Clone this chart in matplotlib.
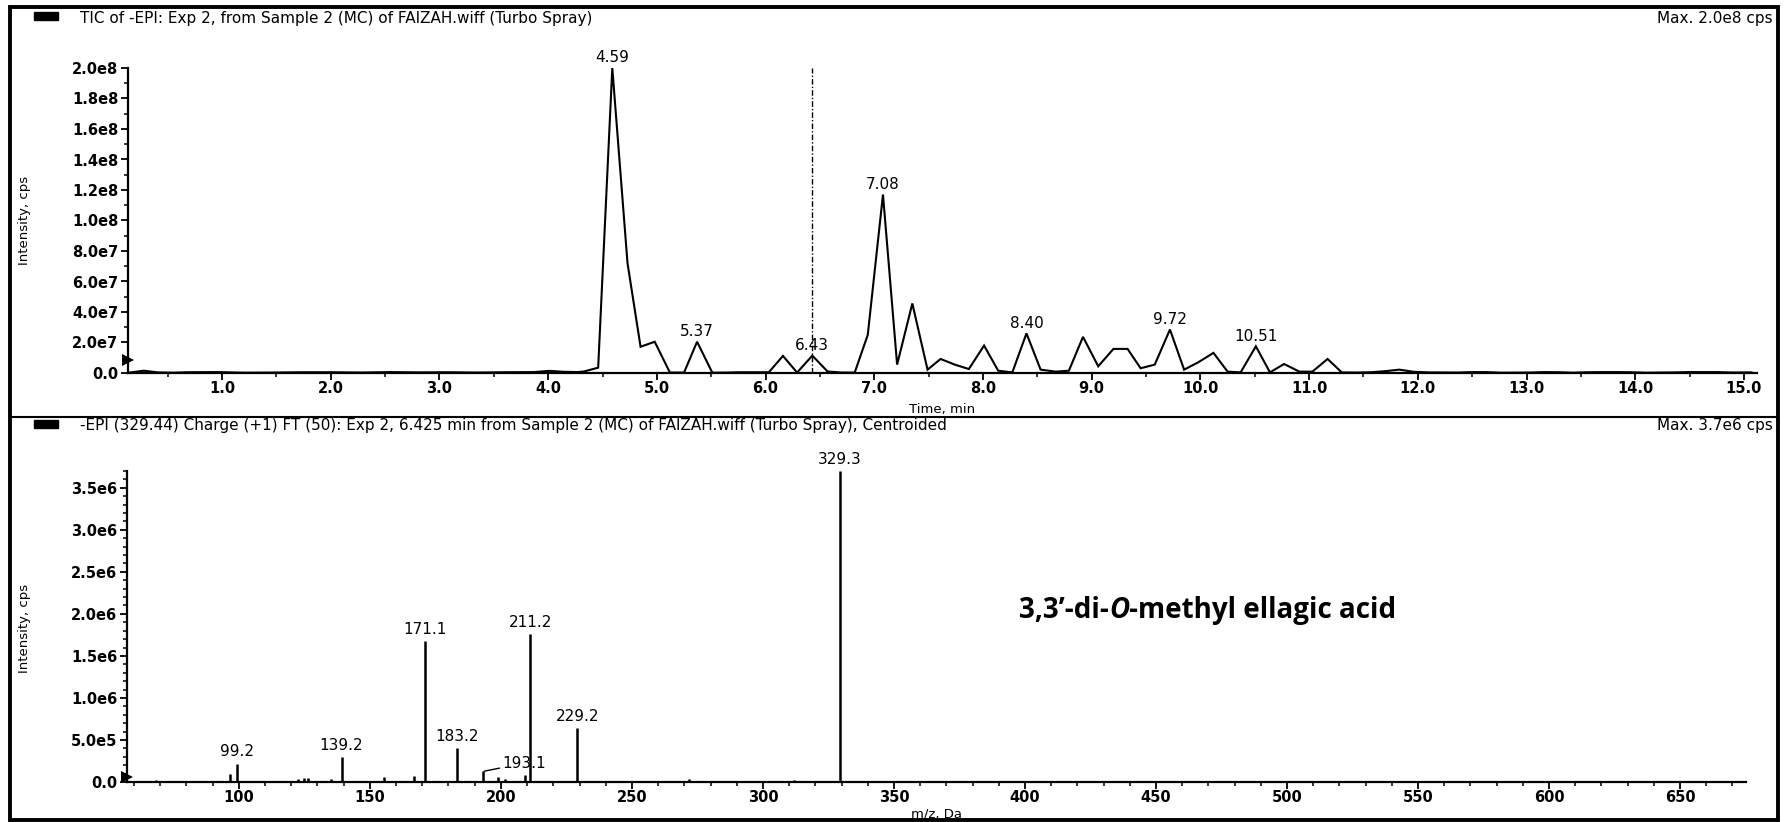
import matplotlib
matplotlib.use("Agg")
import matplotlib.pyplot as plt
from matplotlib.patches import Rectangle
from matplotlib.lines import Line2D
from matplotlib.ticker import MultipleLocator, FuncFormatter

# ---------------- data ----------------
tic_time = [0.15, 0.28, 0.41, 0.55, 0.68, 0.95, 1.21, 1.48, 1.75, 2.01, 2.28, 2.54,
            2.81, 3.08, 3.34, 3.61, 3.87, 4.01, 4.14, 4.27, 4.33, 4.46, 4.59, 4.73,
            4.85, 4.98, 5.12, 5.25, 5.37, 5.51, 5.64, 5.77, 5.90, 6.03, 6.16, 6.29,
            6.43, 6.57, 6.70, 6.82, 6.94, 7.08, 7.21, 7.35, 7.49, 7.61, 7.74, 7.87,
            8.01, 8.14, 8.27, 8.40, 8.53, 8.67, 8.79, 8.92, 9.06, 9.20, 9.33, 9.45,
            9.58, 9.72, 9.85, 9.98, 10.12, 10.25, 10.37, 10.51, 10.64, 10.77, 10.91,
            11.03, 11.17, 11.30, 11.43, 11.57, 11.70, 11.83, 11.96, 12.10, 12.36,
            12.50, 12.63, 12.76, 13.03, 13.16, 13.30, 13.43, 13.56, 13.70, 13.83,
            13.96, 14.10, 14.36, 14.50, 14.63, 14.76, 14.90, 15.07]
tic_intensity = [0.3e6, 1.5e6, 0.4e6, 0.2e6, 0.5e6, 0.6e6, 0.2e6, 0.3e6, 0.5e6, 0.5e6,
                 0.3e6, 0.6e6, 0.4e6, 0.5e6, 0.3e6, 0.5e6, 0.6e6, 1.4e6, 0.8e6, 0.6e6,
                 1.0e6, 3.5e6, 2.0e8, 7.2e7, 1.72e7, 2.05e7, 0.3e6, 0.3e6, 2.05e7, 0.2e6,
                 0.3e6, 0.5e6, 0.5e6, 0.5e6, 1.12e7, 0.3e6, 1.14e7, 1.0e6, 0.3e6, 0.3e6,
                 2.5e7, 1.17e8, 5.5e6, 4.56e7, 2.2e6, 9.2e6, 5.5e6, 2.6e6, 1.8e7, 1.5e6,
                 0.4e6, 2.6e7, 2.2e6, 0.9e6, 1.5e6, 2.37e7, 4.4e6, 1.58e7, 1.58e7, 3.1e6,
                 5.5e6, 2.85e7, 2.2e6, 7.0e6, 1.32e7, 0.9e6, 0.4e6, 1.75e7, 0.4e6, 5.9e6,
                 0.9e6, 0.9e6, 9.2e6, 0.4e6, 0.3e6, 0.5e6, 1.2e6, 2.2e6, 0.8e6, 0.4e6,
                 0.3e6, 0.6e6, 0.6e6, 0.2e6, 0.3e6, 0.6e6, 0.5e6, 0.2e6, 0.5e6, 0.6e6,
                 0.6e6, 0.5e6, 0.2e6, 0.4e6, 0.6e6, 0.6e6, 0.6e6, 0.3e6, 0.4e6]
tic_peak_times = [4.59, 5.37, 6.43, 7.08, 8.40, 9.72, 10.51]
tic_peak_labels = ["4.59", "5.37", "6.43", "7.08", "8.40", "9.72", "10.51"]
scan_time = 6.425

ms_mz = [68.3, 96.8, 99.2, 122.6, 124.8, 126.5, 135.0, 139.2, 155.2, 167.0, 171.1,
         183.2, 193.1, 198.9, 201.5, 209.1, 211.2, 229.2, 271.8, 311.7, 329.3]
ms_intensity = [0.02e6, 0.09e6, 0.22e6, 0.04e6, 0.05e6, 0.05e6, 0.03e6, 0.30e6,
                0.065e6, 0.07e6, 1.68e6, 0.40e6, 0.125e6, 0.06e6, 0.04e6, 0.08e6,
                1.76e6, 0.64e6, 0.04e6, 0.02e6, 3.70e6]
ms_label_mz = [99.2, 139.2, 171.1, 183.2, 211.2, 229.2, 329.3]
ms_labels = ["99.2", "139.2", "171.1", "183.2", "211.2", "229.2", "329.3"]
ms_side_label_mz = 193.1
ms_side_label = "193.1"

top_title = "TIC of -EPI: Exp 2, from Sample 2 (MC) of FAIZAH.wiff (Turbo Spray)"
top_max = "Max. 2.0e8 cps"
bot_title = ("-EPI (329.44) Charge (+1) FT (50): Exp 2, 6.425 min from Sample 2 (MC) "
             "of FAIZAH.wiff (Turbo Spray), Centroided")
bot_max = "Max. 3.7e6 cps"
compound = ["3,3\u2019-di-", "O", "-methyl ellagic acid"]

# ---------------- layout ----------------
W, H = 1789, 822
fig = plt.figure(figsize=(W / 100, H / 100), dpi=100)
plt.rcParams['font.family'] = ['DejaVu Sans']


def fx(px):
    return px / W


def fy(py):
    return 1 - py / H


def sci(v, pos=None):
    if v == 0:
        return "0.0"
    e = 0
    m = v
    while abs(m) >= 10:
        m /= 10
        e += 1
    return f"{m:.1f}e{e}"


TICK_FS = 10.5
LBL_FS = 11

ax1 = fig.add_axes([fx(128), fy(373), fx(1757) - fx(128), fy(68) - fy(373)])
ax2 = fig.add_axes([fx(127), fy(782), fx(1746) - fx(127), fy(471) - fy(782)])

for ax in (ax1, ax2):
    ax.set_facecolor('none')
    for s in ('top', 'right'):
        ax.spines[s].set_visible(False)
    for s in ('left', 'bottom'):
        ax.spines[s].set_linewidth(1.6)
    ax.tick_params(which='major', direction='out', length=5, width=1.3,
                   labelsize=TICK_FS, pad=2)
    ax.tick_params(axis='x', which='major', pad=1)
    ax.tick_params(which='minor', direction='out', length=3, width=1.1)

# ---- top: TIC ----
ax1.plot(tic_time, tic_intensity, color='black', lw=1.5, solid_joinstyle='miter')
ax1.set_xlim(0.135, 15.12)
ax1.set_ylim(0, 2.0e8)
ax1.xaxis.set_major_locator(MultipleLocator(1.0))
ax1.xaxis.set_minor_locator(MultipleLocator(0.5))
ax1.yaxis.set_major_locator(MultipleLocator(2e7))
ax1.yaxis.set_minor_locator(MultipleLocator(1e7))
ax1.xaxis.set_major_formatter(FuncFormatter(lambda v, p: f"{v:.1f}"))
ax1.yaxis.set_major_formatter(FuncFormatter(sci))
ax1.axvline(scan_time, color='black', lw=1.0, ls=(0, (4, 1.5, 1, 1.5)))
for t, lab in zip(tic_peak_times, tic_peak_labels):
    i = min(range(len(tic_time)), key=lambda k: abs(tic_time[k] - t))
    ax1.annotate(lab, (tic_time[i], tic_intensity[i]), xytext=(0, 2),
                 textcoords='offset points', ha='center', va='bottom',
                 fontsize=LBL_FS, clip_on=False)
ax1.set_xlabel("Time, min", fontsize=9.5, labelpad=0)
ax1.xaxis.set_label_coords(0.5, -0.10)
ax1.plot([0], [0.85e7], marker='>', color='black', ms=8, clip_on=False,
         transform=ax1.get_yaxis_transform(), markeredgewidth=0)

# ---- bottom: MS/MS ----
ax2.vlines(ms_mz, 0, ms_intensity, color='black', lw=1.8)
ax2.set_xlim(57.3, 675.2)
ax2.set_ylim(0, 3.7e6)
ax2.xaxis.set_major_locator(MultipleLocator(50))
ax2.xaxis.set_minor_locator(MultipleLocator(10))
ax2.yaxis.set_major_locator(MultipleLocator(5e5))
ax2.yaxis.set_minor_locator(MultipleLocator(1e5))
ax2.xaxis.set_major_formatter(FuncFormatter(lambda v, p: f"{v:.0f}"))
ax2.yaxis.set_major_formatter(FuncFormatter(sci))
for m, lab in zip(ms_label_mz, ms_labels):
    i = ms_mz.index(m)
    ax2.annotate(lab, (ms_mz[i], ms_intensity[i]), xytext=(0, 3),
                 textcoords='offset points', ha='center', va='bottom',
                 fontsize=LBL_FS, clip_on=False)
j = ms_mz.index(ms_side_label_mz)
ax2.annotate(ms_side_label, (ms_mz[j], ms_intensity[j]), xytext=(14, 6),
             textcoords='offset points', ha='left', va='center', fontsize=LBL_FS,
             arrowprops=dict(arrowstyle='-', color='black', lw=1.0,
                             shrinkA=0, shrinkB=1))
ax2.set_xlabel("m/z, Da", fontsize=9.5, labelpad=0)
ax2.xaxis.set_label_coords(0.5, -0.083)
ax2.plot([0], [0.6e5], marker='>', color='black', ms=8, clip_on=False,
         transform=ax2.get_yaxis_transform(), markeredgewidth=0)

for ax in (ax1, ax2):
    for lab in ax.get_xticklabels() + ax.get_yticklabels():
        lab.set_fontweight('bold')

# y labels
fig.text(fx(25), fy(220), "Intensity, cps", rotation=90, ha='center', va='center',
         fontsize=9.5)
fig.text(fx(25), fy(628), "Intensity, cps", rotation=90, ha='center', va='center',
         fontsize=9.5)

# ---- frame, separators, headers ----
fig.add_artist(Rectangle((fx(10), fy(820)), fx(1778) - fx(10), fy(7) - fy(820),
                         transform=fig.transFigure, fill=False, lw=2.8,
                         edgecolor='black'))
fig.add_artist(Line2D([fx(10), fx(1778)], [fy(417), fy(417)],
                      transform=fig.transFigure, color='black', lw=1.5))
for ytop in (12, 420):
    fig.add_artist(Rectangle((fx(34), fy(ytop + 8)), fx(24), 8 / H,
                             transform=fig.transFigure, color='black'))
fig.text(fx(80), fy(18), top_title, ha='left', va='center', fontsize=LBL_FS)
fig.text(fx(1773), fy(19), top_max, ha='right', va='center', fontsize=LBL_FS)
fig.text(fx(80), fy(425), bot_title, ha='left', va='center', fontsize=LBL_FS)
fig.text(fx(1773), fy(425), bot_max, ha='right', va='center', fontsize=LBL_FS)

# compound annotation with italic O
fig.canvas.draw()
r = fig.canvas.get_renderer()
x0 = fx(1019)
for s, st in zip(compound, ['normal', 'italic', 'normal']):
    t = fig.text(x0, fy(618), s, ha='left', va='baseline', fontsize=20,
                 fontweight='bold', style=st, family=['Open Sans', 'DejaVu Sans'])
    bb = t.get_window_extent(renderer=r)
    x0 = bb.x1 / W

fig.savefig("out.png", dpi=100)
